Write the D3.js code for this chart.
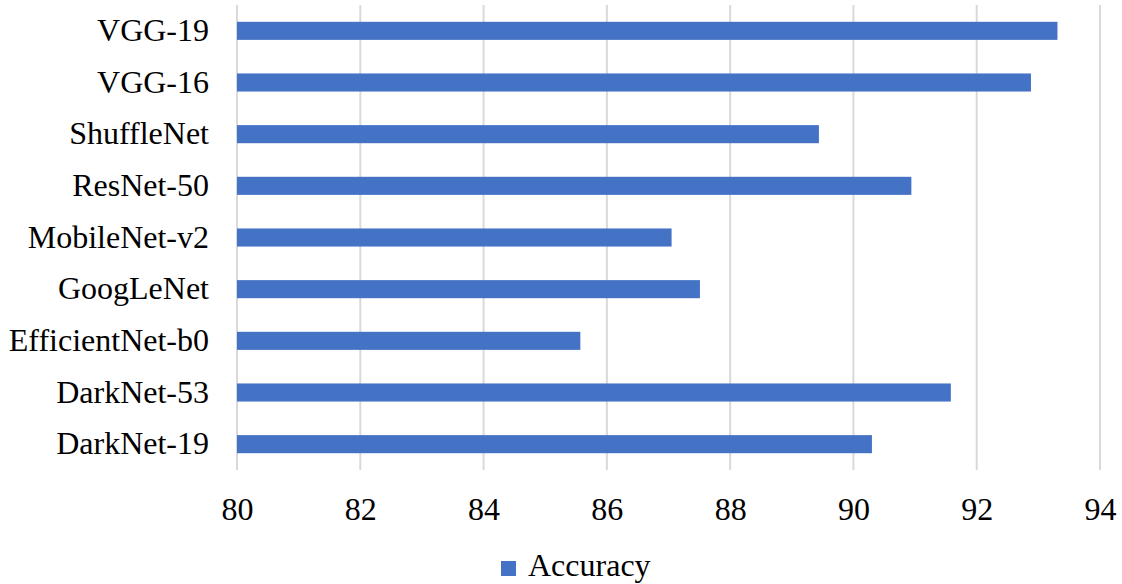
<!DOCTYPE html>
<html>
<head>
<meta charset="utf-8">
<script src="https://cdn.jsdelivr.net/npm/d3@7"></script>
<style>
  body { margin: 0; background: #fff; }
  svg { display: block; }
  svg text { font-family: "Liberation Serif", "Times New Roman", serif; font-size: 32px; fill: #000; }
</style>
</head>
<body>
<svg width="1122" height="584"></svg>
<script>
const models = ["VGG-19", "VGG-16", "ShuffleNet", "ResNet-50", "MobileNet-v2",
                "GoogLeNet", "EfficientNet-b0", "DarkNet-53", "DarkNet-19"];
const accuracy = [93.31, 92.88, 89.44, 90.94, 87.05, 87.51, 85.57, 91.58, 90.30];
const xTicks = [80, 82, 84, 86, 88, 90, 92, 94];
const seriesName = "Accuracy";

const svg = d3.select("svg");
const barColor = "#4472c4";

const x = d3.scaleLinear().domain([80, 94]).range([237, 1100]);
const y = d3.scaleBand().domain(models).range([5, 470]).paddingInner(0.65).paddingOuter(0.325);

// gridlines
svg.append("g")
  .selectAll("line").data(xTicks)
  .enter().append("line")
    .attr("x1", d => x(d)).attr("x2", d => x(d))
    .attr("y1", 5).attr("y2", 470)
    .attr("stroke", "#d9d9d9")
    .attr("stroke-width", 2);

// bars
svg.append("g")
  .selectAll("rect").data(models)
  .enter().append("rect")
    .attr("x", x(80))
    .attr("y", d => y(d))
    .attr("width", (d, i) => x(accuracy[i]) - x(80))
    .attr("height", y.bandwidth())
    .attr("fill", barColor);

// x axis labels
const xAxis = d3.axisBottom(x).tickValues(xTicks).tickSize(0).tickPadding(0);
svg.append("g")
  .attr("transform", "translate(0, 497)")
  .call(xAxis)
  .call(g => g.select(".domain").remove())
  .call(g => g.attr("font-family", null).attr("font-size", null));

// y axis labels
const yAxis = d3.axisLeft(y).tickSize(0).tickPadding(0);
svg.append("g")
  .attr("transform", "translate(209, 0)")
  .call(yAxis)
  .call(g => g.select(".domain").remove())
  .call(g => g.attr("font-family", null).attr("font-size", null));

// legend
const legend = svg.append("g").attr("transform", "translate(501, 561)");
legend.append("rect")
  .attr("width", 15).attr("height", 15)
  .attr("fill", barColor);
legend.append("text")
  .attr("x", 27).attr("y", 15)
  .text(seriesName);
</script>
</body>
</html>
